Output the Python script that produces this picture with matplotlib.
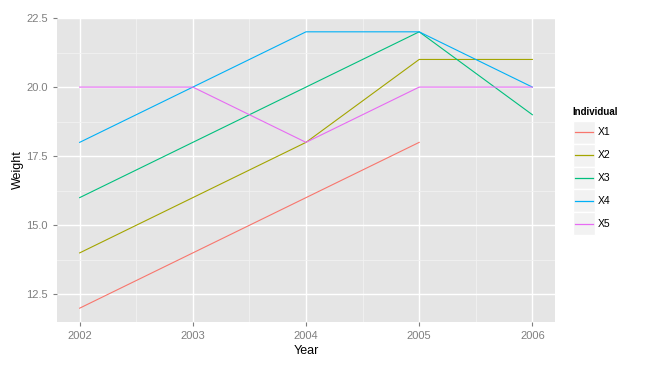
import matplotlib.pyplot as plt
from matplotlib.patches import Rectangle
from matplotlib.lines import Line2D

plt.rcParams['font.family'] = ['Liberation Sans', 'DejaVu Sans']

years = [2002, 2003, 2004, 2005, 2006]
individuals = ['X1', 'X2', 'X3', 'X4', 'X5']
weights = {
    'X1': [12, 14, 16, 18, None],
    'X2': [14, 16, 18, 21, 21],
    'X3': [16, 18, 20, 22, 19],
    'X4': [18, 20, 22, 22, 20],
    'X5': [20, 20, 18, 20, 20],
}
colors = ['#F8766D', '#A3A500', '#00BF7D', '#00B0F6', '#E76BF3']
yticks = [12.5, 15.0, 17.5, 20.0, 22.5]

W, H = 657, 367
fig = plt.figure(figsize=(W / 100, H / 100), dpi=100)
ax = fig.add_axes([57 / W, 1 - 322 / H, (555 - 57) / W, (322 - 18) / H])
ax.set_facecolor('#E5E5E5')

for name, col in zip(individuals, colors):
    xs = [x for x, v in zip(years, weights[name]) if v is not None]
    ys = [v for v in weights[name] if v is not None]
    ax.plot(xs, ys, color=col, lw=0.8, zorder=3)

ax.set_xlim(2001.8, 2006.2)
ax.set_ylim(11.5, 22.5)
ax.set_xticks(years)
ax.set_xticklabels([str(y) for y in years])
ax.set_yticks(yticks)
ax.set_yticklabels(['%.1f' % v for v in yticks])
ax.set_xticks([y + 0.5 for y in years[:-1]], minor=True)
ax.set_yticks([13.75, 16.25, 18.75, 21.25], minor=True)
ax.grid(which='major', color='white', lw=1.0, zorder=1)
ax.grid(which='minor', color='#F2F2F2', lw=0.6, zorder=1)
ax.set_axisbelow(True)
for s in ax.spines.values():
    s.set_visible(False)
ax.tick_params(which='major', colors='#7F7F7F', labelsize=8, length=3, width=0.8)
ax.tick_params(which='minor', length=0)
ax.set_xlabel('Year', fontsize=9, labelpad=3)
ax.set_ylabel('Weight', fontsize=9, labelpad=2)

# legend drawn by hand to mimic ggplot keys
fig.text(572 / W, 1 - 112 / H, 'Individual', fontsize=7, fontweight='bold', va='center')
key_h = 22.8
for i, (name, col) in enumerate(zip(individuals, colors)):
    top = 121 + i * key_h
    fig.patches.append(Rectangle((573 / W, 1 - (top + key_h) / H), 22 / W, key_h / H,
                                 transform=fig.transFigure, facecolor='#F2F2F2',
                                 edgecolor='white', lw=1, zorder=1))
    cy = 1 - (top + key_h / 2) / H
    fig.lines.append(Line2D([575 / W, 593 / W], [cy, cy], transform=fig.transFigure,
                            color=col, lw=0.9, zorder=5))
    fig.text(598 / W, cy, name, fontsize=7.5, va='center')

fig.savefig('out.png', dpi=100)
